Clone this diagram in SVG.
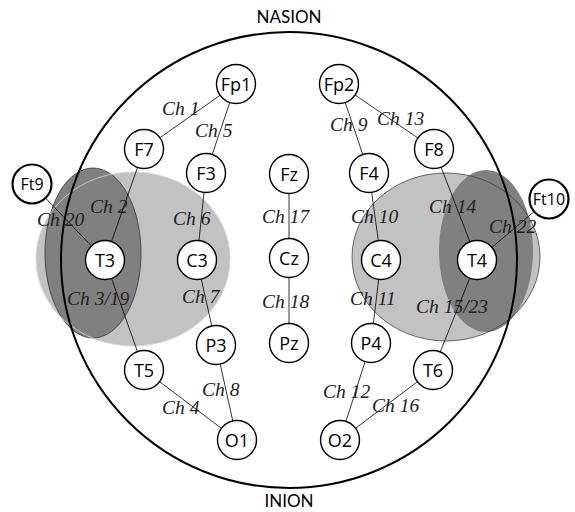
<svg xmlns="http://www.w3.org/2000/svg" width="575" height="512" viewBox="0 0 575 512">
  <style>
    .node circle { fill: #fff; stroke: #000; stroke-width: 1.4; }
    .node.ext circle { stroke-width: 2.2; }
    .node text { font-family: "Open Sans", "DejaVu Sans", sans-serif; font-size: 18px; fill: #000; text-anchor: middle; dominant-baseline: central; }
    .node.ext text { font-size: 16px; }
    .wire line { stroke: #000; stroke-width: 0.8; }
    .ch { font-family: "Liberation Serif", "Times New Roman", serif; font-style: italic; font-size: 19.5px; fill: #222; }
    .land { font-family: Lato, "Open Sans", sans-serif; font-size: 17px; fill: #000; text-anchor: middle; }
  </style>

  <!-- temporal regions, left hemisphere -->
  <g id="region-left">
    <ellipse cx="133" cy="259" rx="97" ry="87" fill="#c2c2c2"/>
    <ellipse cx="93" cy="253" rx="48" ry="85" fill="#808080" stroke="#333" stroke-width="0.8"/>
    <ellipse cx="133" cy="259" rx="97" ry="87" fill="none" stroke="#d4d4d4" stroke-width="0.8"/>
  </g>

  <!-- temporal regions, right hemisphere -->
  <g id="region-right">
    <ellipse cx="446" cy="257" rx="94" ry="84" fill="#c2c2c2"/>
    <ellipse cx="486" cy="251" rx="47" ry="81" fill="#808080"/>
    <ellipse cx="446" cy="257" rx="94" ry="84" fill="none" stroke="#444" stroke-width="0.8"/>
  </g>

  <!-- head outline -->
  <g id="head">
    <circle cx="289" cy="260" r="228" fill="none" stroke="#000" stroke-width="2"/>
    <text class="land" x="289" y="23">NASION</text>
    <text class="land" x="289" y="507">INION</text>
  </g>

  <!-- bipolar channels -->
  <g id="connectors" class="wire">
    <line x1="236" y1="84" x2="144" y2="149"/>
    <line x1="236" y1="84" x2="206" y2="173"/>
    <line x1="144" y1="149" x2="105" y2="260"/>
    <line x1="206" y1="173" x2="197" y2="260"/>
    <line x1="32" y1="184" x2="105" y2="260"/>
    <line x1="105" y1="260" x2="144" y2="370"/>
    <line x1="197" y1="260" x2="216" y2="345"/>
    <line x1="144" y1="370" x2="237" y2="440"/>
    <line x1="216" y1="345" x2="237" y2="440"/>
    <line x1="289" y1="174" x2="289" y2="258"/>
    <line x1="289" y1="258" x2="289" y2="343"/>
    <line x1="339" y1="84" x2="369" y2="173"/>
    <line x1="339" y1="84" x2="434" y2="149"/>
    <line x1="369" y1="173" x2="381" y2="260"/>
    <line x1="434" y1="149" x2="477" y2="260"/>
    <line x1="549" y1="199" x2="477" y2="260"/>
    <line x1="381" y1="260" x2="371" y2="343"/>
    <line x1="477" y1="260" x2="433" y2="370"/>
    <line x1="371" y1="343" x2="340" y2="440"/>
    <line x1="433" y1="370" x2="340" y2="440"/>
  </g>

  <!-- channel labels -->
  <g id="channel-labels">
    <text class="ch" x="162" y="115">Ch 1</text>
    <text class="ch" x="195" y="137">Ch 5</text>
    <text class="ch" x="90" y="213">Ch 2</text>
    <text class="ch" x="37" y="226">Ch 20</text>
    <text class="ch" x="173" y="225">Ch 6</text>
    <text class="ch" x="262" y="223">Ch 17</text>
    <text class="ch" x="67" y="305">Ch 3/19</text>
    <text class="ch" x="182" y="303">Ch 7</text>
    <text class="ch" x="262" y="308">Ch 18</text>
    <text class="ch" x="202" y="396">Ch 8</text>
    <text class="ch" x="162" y="414">Ch 4</text>
    <text class="ch" x="330" y="131">Ch 9</text>
    <text class="ch" x="377" y="125">Ch 13</text>
    <text class="ch" x="351" y="223">Ch 10</text>
    <text class="ch" x="429" y="213">Ch 14</text>
    <text class="ch" x="489" y="233">Ch 22</text>
    <text class="ch" x="350" y="305">Ch 11</text>
    <text class="ch" x="416" y="313">Ch 15/23</text>
    <text class="ch" x="323" y="398">Ch 12</text>
    <text class="ch" x="372" y="412">Ch 16</text>
  </g>

  <!-- electrodes -->
  <g id="Fp1" class="node"><circle cx="236" cy="84" r="19.5"/><text x="236" y="84">Fp1</text></g>
  <g id="F7" class="node"><circle cx="144" cy="149" r="19.5"/><text x="144" y="149">F7</text></g>
  <g id="F3" class="node"><circle cx="206" cy="173" r="19.5"/><text x="206" y="173">F3</text></g>
  <g id="Ft9" class="node ext"><circle cx="32" cy="184" r="19.5"/><text x="32" y="184">Ft9</text></g>
  <g id="T3" class="node"><circle cx="105" cy="260" r="19.5"/><text x="105" y="260">T3</text></g>
  <g id="C3" class="node"><circle cx="197" cy="260" r="19.5"/><text x="197" y="260">C3</text></g>
  <g id="T5" class="node"><circle cx="144" cy="370" r="19.5"/><text x="144" y="370">T5</text></g>
  <g id="P3" class="node"><circle cx="216" cy="345" r="19.5"/><text x="216" y="345">P3</text></g>
  <g id="O1" class="node"><circle cx="237" cy="440" r="19.5"/><text x="237" y="440">O1</text></g>
  <g id="Fz" class="node"><circle cx="289" cy="174" r="19.5"/><text x="289" y="174">Fz</text></g>
  <g id="Cz" class="node"><circle cx="289" cy="258" r="19.5"/><text x="289" y="258">Cz</text></g>
  <g id="Pz" class="node"><circle cx="289" cy="343" r="19.5"/><text x="289" y="343">Pz</text></g>
  <g id="Fp2" class="node"><circle cx="339" cy="84" r="19.5"/><text x="339" y="84">Fp2</text></g>
  <g id="F4" class="node"><circle cx="369" cy="173" r="19.5"/><text x="369" y="173">F4</text></g>
  <g id="F8" class="node"><circle cx="434" cy="149" r="19.5"/><text x="434" y="149">F8</text></g>
  <g id="Ft10" class="node ext"><circle cx="549" cy="199" r="19.5"/><text x="549" y="199">Ft10</text></g>
  <g id="C4" class="node"><circle cx="381" cy="260" r="19.5"/><text x="381" y="260">C4</text></g>
  <g id="T4" class="node"><circle cx="477" cy="260" r="19.5"/><text x="477" y="260">T4</text></g>
  <g id="P4" class="node"><circle cx="371" cy="343" r="19.5"/><text x="371" y="343">P4</text></g>
  <g id="T6" class="node"><circle cx="433" cy="370" r="19.5"/><text x="433" y="370">T6</text></g>
  <g id="O2" class="node"><circle cx="340" cy="440" r="19.5"/><text x="340" y="440">O2</text></g>
</svg>
